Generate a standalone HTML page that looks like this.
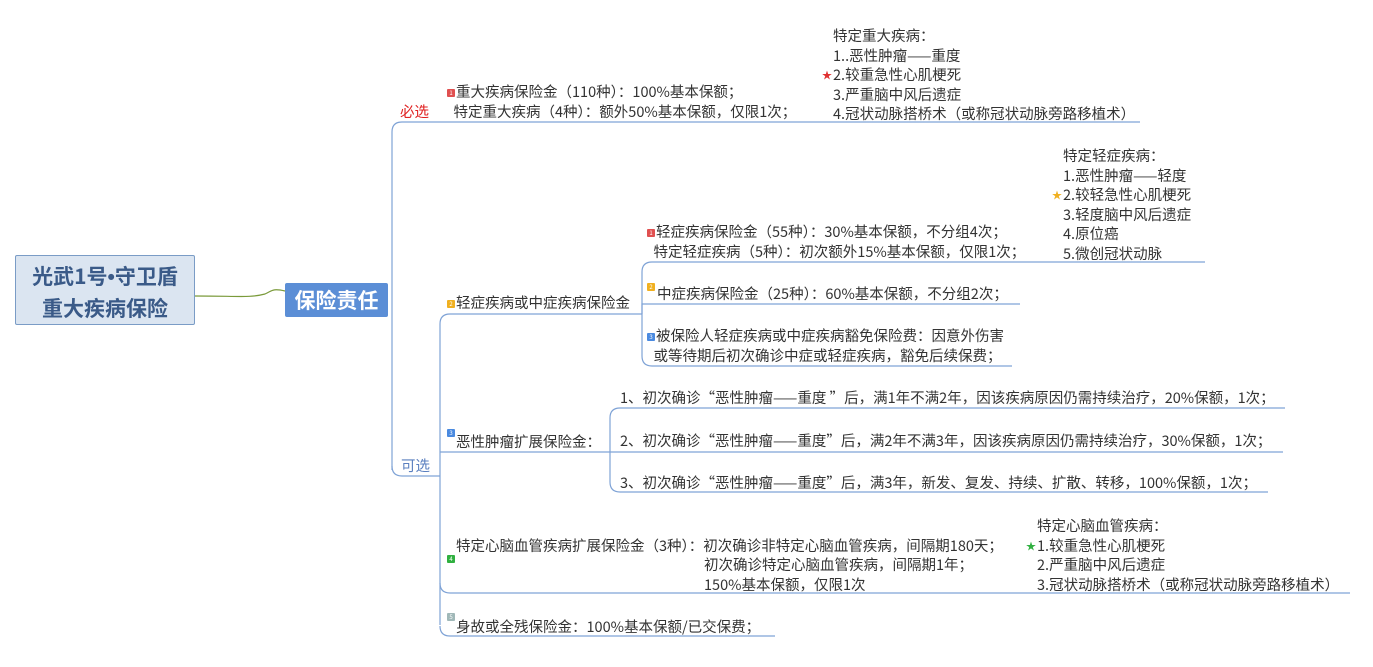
<!DOCTYPE html>
<html><head><meta charset="utf-8"><style>
body{margin:0;width:1373px;height:667px;background:#fff;position:relative;overflow:hidden;font-family:"Noto Sans CJK SC","Liberation Sans",sans-serif;color:#333;font-size:14.5px}
.t{position:absolute;white-space:nowrap;line-height:19.5px}
.b{display:inline-block;width:8px;height:8px;border-radius:1px;vertical-align:middle;margin-right:1px;font-size:6px;color:#fff;text-align:center;line-height:8px}
</style></head><body>
<svg width="1373" height="667" style="position:absolute;left:0;top:0" fill="none">
<path d="M195,296 C240,296 250,298 265,294 C272,291 272,288 285,291" stroke="#7a9a3a" stroke-width="1.2"/>
<g stroke="#7fa3d6" stroke-width="1.2">
<path d="M392,470 L392,132 Q392,122 402,122 L1140,122"/>
<path d="M392,466 Q392,476 402,476 L440,476"/>
<path d="M440,625 L440,324 Q440,314 450,314 L642,314"/>
<path d="M642,314 L642,272 Q642,262 652,262 L1205,262"/>
<path d="M642,314 L642,304 L1020,304"/>
<path d="M642,314 L642,356 Q642,366 652,366 L1012,366"/>
<path d="M440,452 L610,452"/>
<path d="M610,452 L610,418 Q610,408 620,408 L1285,408"/>
<path d="M610,452 L1283,452"/>
<path d="M610,452 L610,482 Q610,492 620,492 L1268,492"/>
<path d="M440,583 Q440,593 450,593 L1350,593"/>
<path d="M440,626 Q440,636 450,636 L775,636"/>
</g>
</svg>
<div style="position:absolute;left:15px;top:255px;width:180px;height:70px;background:#dbe5f1;border:1.5px solid #7a9cc6;border-radius:2px;color:#3a5a88;font-weight:bold;font-size:21px;text-align:center;line-height:30px;padding-top:5px;box-sizing:border-box">光武1号<span style="font-family:'Liberation Sans'">•</span>守卫盾<br>重大疾病保险</div>
<div style="position:absolute;left:285px;top:283px;width:103px;height:34px;background:#5b8ed6;border-radius:2px;color:#fff;font-weight:bold;font-size:21px;text-align:center;line-height:34px">保险责任</div>
<div class="t" style="left:400px;top:102px;color:#e02020">必选</div>
<div class="t" style="left:401px;top:456px;color:#5a7fbf">可选</div>
<div class="t" style="left:447px;top:82px"><span class="b" style="background:#e05050">1</span>重大疾病保险金（110种）：100%基本保额；<br>&nbsp;&nbsp;特定重大疾病（4种）：额外50%基本保额，仅限1次；</div>
<div class="t" style="left:833px;top:26px">特定重大疾病：<br>1..恶性肿瘤——重度<br><span style="position:absolute;left:-11px;color:#e03030;font-size:10px">★</span>2.较重急性心肌梗死<br>3.严重脑中风后遗症<br>4.冠状动脉搭桥术（或称冠状动脉旁路移植术）</div>
<div class="t" style="left:447px;top:293px"><span class="b" style="background:#f0b020">2</span>轻症疾病或中症疾病保险金</div>
<div class="t" style="left:647px;top:222px"><span class="b" style="background:#e05050">1</span>轻症疾病保险金（55种）：30%基本保额，不分组4次；<br>&nbsp;&nbsp;特定轻症疾病（5种）：初次额外15%基本保额，仅限1次；</div>
<div class="t" style="left:1063px;top:146px">特定轻症疾病：<br>1.恶性肿瘤——轻度<br><span style="position:absolute;left:-11px;color:#f0b020;font-size:10px">★</span>2.较轻急性心肌梗死<br>3.轻度脑中风后遗症<br>4.原位癌<br>5.微创冠状动脉</div>
<div class="t" style="left:647px;top:276px"><span class="b" style="background:#f0b020">2</span></div>
<div class="t" style="left:657px;top:284px">中症疾病保险金（25种）：60%基本保额，不分组2次；</div>
<div class="t" style="left:647px;top:326px"><span class="b" style="background:#4a8ae0">3</span>被保险人轻症疾病或中症疾病豁免保险费：因意外伤害<br>&nbsp;&nbsp;或等待期后初次确诊中症或轻症疾病，豁免后续保费；</div>
<div class="t" style="left:447px;top:422px"><span class="b" style="background:#4a8ae0">3</span></div>
<div class="t" style="left:456px;top:432px">恶性肿瘤扩展保险金：</div>
<div class="t" style="left:620px;top:388px">1、初次确诊“恶性肿瘤——重度 ”后，满1年不满2年，因该疾病原因仍需持续治疗，20%保额，1次；</div>
<div class="t" style="left:620px;top:431px">2、初次确诊“恶性肿瘤——重度”后，满2年不满3年，因该疾病原因仍需持续治疗，30%保额，1次；</div>
<div class="t" style="left:620px;top:473px">3、初次确诊“恶性肿瘤——重度”后，满3年，新发、复发、持续、扩散、转移，100%保额，1次；</div>
<div class="t" style="left:447px;top:548px"><span class="b" style="background:#30b040">4</span></div>
<div class="t" style="left:456px;top:536px">特定心脑血管疾病扩展保险金（3种）：初次确诊非特定心脑血管疾病，间隔期180天；</div>
<div class="t" style="left:704px;top:555px">初次确诊特定心脑血管疾病，间隔期1年；<br>150%基本保额，仅限1次</div>
<div class="t" style="left:1037px;top:516px">特定心脑血管疾病：<br><span style="position:absolute;left:-11px;color:#30b040;font-size:10px">★</span>1.较重急性心肌梗死<br>2.严重脑中风后遗症<br>3.冠状动脉搭桥术（或称冠状动脉旁路移植术）</div>
<div class="t" style="left:447px;top:606px"><span class="b" style="background:#a0b8b8">5</span></div>
<div class="t" style="left:456px;top:617px">身故或全残保险金：100%基本保额/已交保费；</div>
</body></html>
